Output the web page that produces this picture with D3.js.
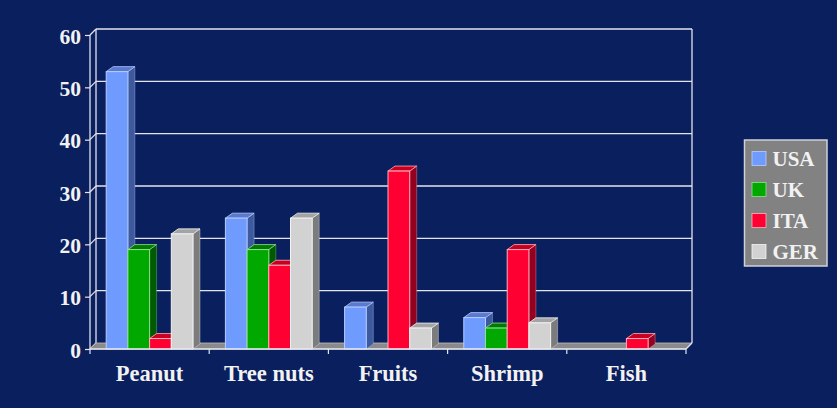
<!DOCTYPE html>
<html><head><meta charset="utf-8">
<script src="https://cdn.jsdelivr.net/npm/d3@7"></script>
<style>html,body{margin:0;padding:0;background:#0a1f5e;}svg{display:block;}</style>
</head><body>
<svg id="chart" width="837" height="408"></svg>
<script>
const categories = ["Peanut", "Tree nuts", "Fruits", "Shrimp", "Fish"];
const seriesNames = ["USA", "UK", "ITA", "GER"];
const usa = [53, 25, 8, 6, 0];
const uk  = [19, 19, 0, 4, 0];
const ita = [2, 16, 34, 19, 2];
const ger = [22, 25, 4, 5, 0];
const yTicks = [0, 10, 20, 30, 40, 50, 60];

(function () {
const seriesValues = [usa, uk, ita, ger];
const colors = {
  USA: {front: "#6f9bff", side: "#3d5a9e", top: "#5a7ad0", edge: "#b8ccff"},
  UK:  {front: "#00a800", side: "#005a00", top: "#007a00", edge: "#8fe08f"},
  ITA: {front: "#ff0033", side: "#940020", top: "#c8001f", edge: "#ffb0bc"},
  GER: {front: "#d2d2d2", side: "#7c7c7c", top: "#a4a4a4", edge: "#f4f4f4"}
};

const svg = d3.select("#chart");
const pLeft = 90, pRight = 686, pTop = 35, pBottom = 349;
const wdx = 6, wdy = 6;   // wall depth
const bdx = 7, bdy = 5;   // bar depth

const x0 = d3.scaleBand().domain(categories).range([pLeft, pRight]).paddingInner(0).paddingOuter(0);
const x1 = d3.scaleBand().domain(seriesNames).range([0, x0.bandwidth()]).paddingInner(0).paddingOuter(0.746);
const y = d3.scaleLinear().domain([0, 60]).range([pBottom, pTop]);

const gridColor = "#e4e4ee";
const font = "'Liberation Serif','Times New Roman',serif";

// back wall gridlines
svg.append("g").selectAll("line").data(yTicks.filter(d => d > 0)).join("line")
  .attr("x1", pLeft + wdx).attr("x2", pRight + wdx)
  .attr("y1", d => y(d) - wdy).attr("y2", d => y(d) - wdy)
  .attr("stroke", gridColor).attr("stroke-width", 1.3);

// side wall diagonals
svg.append("g").selectAll("line").data(yTicks).join("line")
  .attr("x1", pLeft).attr("x2", pLeft + wdx)
  .attr("y1", d => y(d)).attr("y2", d => y(d) - wdy)
  .attr("stroke", gridColor).attr("stroke-width", 1.2);

// back wall left & right edges
svg.append("line").attr("x1", pLeft + wdx).attr("x2", pLeft + wdx)
  .attr("y1", y(60) - wdy).attr("y2", y(0) - wdy).attr("stroke", gridColor).attr("stroke-width", 1.3);
svg.append("line").attr("x1", pRight + wdx).attr("x2", pRight + wdx)
  .attr("y1", y(60) - wdy).attr("y2", y(0) - wdy).attr("stroke", gridColor).attr("stroke-width", 1.3);

// floor
svg.append("polygon")
  .attr("points", [[pLeft, y(0)], [pRight, y(0)], [pRight + wdx, y(0) - wdy], [pLeft + wdx, y(0) - wdy]].map(p => p.join(",")).join(" "))
  .attr("fill", "#8a8a8a").attr("stroke", "#bdbdbd").attr("stroke-width", 0.8);

// bars
const barData = [];
categories.forEach((c, ci) => {
  seriesNames.forEach((s, si) => {
    barData.push({cat: c, series: s, value: seriesValues[si][ci]});
  });
});
const bars = svg.append("g").selectAll("g").data(barData.filter(d => d.value > 0)).join("g");
bars.each(function(d) {
  const g = d3.select(this);
  const col = colors[d.series];
  const xl = x0(d.cat) + x1(d.series);
  const xr = xl + x1.bandwidth();
  const yt = y(d.value), yb = y(0);
  g.append("polygon")
    .attr("points", [[xr, yb], [xr + bdx, yb - bdy], [xr + bdx, yt - bdy], [xr, yt]].map(p => p.join(",")).join(" "))
    .attr("fill", col.side).attr("stroke", col.edge).attr("stroke-width", 0.6).attr("stroke-opacity", 0.6);
  g.append("polygon")
    .attr("points", [[xl, yt], [xr, yt], [xr + bdx, yt - bdy], [xl + bdx, yt - bdy]].map(p => p.join(",")).join(" "))
    .attr("fill", col.top).attr("stroke", col.edge).attr("stroke-width", 0.8);
  g.append("rect")
    .attr("x", xl).attr("y", yt).attr("width", xr - xl).attr("height", yb - yt)
    .attr("fill", col.front).attr("stroke", col.edge).attr("stroke-width", 1);
});

// front axes
svg.append("line").attr("x1", pLeft).attr("x2", pLeft).attr("y1", y(60)).attr("y2", y(0))
  .attr("stroke", gridColor).attr("stroke-width", 1.3);
svg.append("line").attr("x1", pLeft).attr("x2", pRight).attr("y1", y(0)).attr("y2", y(0))
  .attr("stroke", gridColor).attr("stroke-width", 1.3);
svg.append("line").attr("x1", pRight).attr("x2", pRight + wdx).attr("y1", y(0)).attr("y2", y(0) - wdy)
  .attr("stroke", gridColor).attr("stroke-width", 1.2);

// y axis ticks and labels
const yAxis = d3.axisLeft(y).tickValues(yTicks).tickSize(5).tickPadding(4).tickFormat(d3.format("d"));
const ya = svg.append("g").attr("transform", `translate(${pLeft},0)`).call(yAxis);
ya.select(".domain").remove();
ya.selectAll(".tick line").attr("stroke", gridColor).attr("stroke-width", 1.2);
ya.selectAll(".tick text").attr("fill", "#f2f2f2").attr("font-family", font)
  .attr("font-weight", "bold").attr("font-size", 21.5).attr("dy", "0.38em");

// x axis ticks and labels
const xTickPos = categories.map(c => x0(c)).concat([pRight]);
svg.append("g").selectAll("line").data(xTickPos).join("line")
  .attr("x1", d => d).attr("x2", d => d).attr("y1", y(0)).attr("y2", y(0) + 5)
  .attr("stroke", gridColor).attr("stroke-width", 1.2);
const xAxis = d3.axisBottom(x0).tickSize(0);
const xa = svg.append("g").attr("transform", `translate(0,${pBottom})`).call(xAxis);
xa.select(".domain").remove();
xa.selectAll(".tick text").attr("fill", "#f2f2f2").attr("font-family", font)
  .attr("font-weight", "bold").attr("font-size", 22.5).attr("dy", null).attr("y", 32);

// legend
const lg = svg.append("g");
lg.append("rect").attr("x", 744.5).attr("y", 140).attr("width", 82.5).attr("height", 126)
  .attr("fill", "#828282").attr("stroke", "#d0d0d8").attr("stroke-width", 1.5);
const ly = d3.scalePoint().domain(seriesNames).range([158.5, 251.5]);
const items = lg.selectAll("g").data(seriesNames).join("g")
  .attr("transform", d => `translate(752,${ly(d)})`);
items.append("rect").attr("x", 0).attr("y", -7).attr("width", 14).attr("height", 14)
  .attr("fill", d => colors[d].front).attr("stroke", d => colors[d].edge).attr("stroke-width", 0.8);
items.append("text").attr("x", 20.5).attr("y", 7.5)
  .attr("fill", "#f2f2f2").attr("font-family", font).attr("font-weight", "bold").attr("font-size", 21)
  .text(d => d);
})();
</script>
</body></html>
